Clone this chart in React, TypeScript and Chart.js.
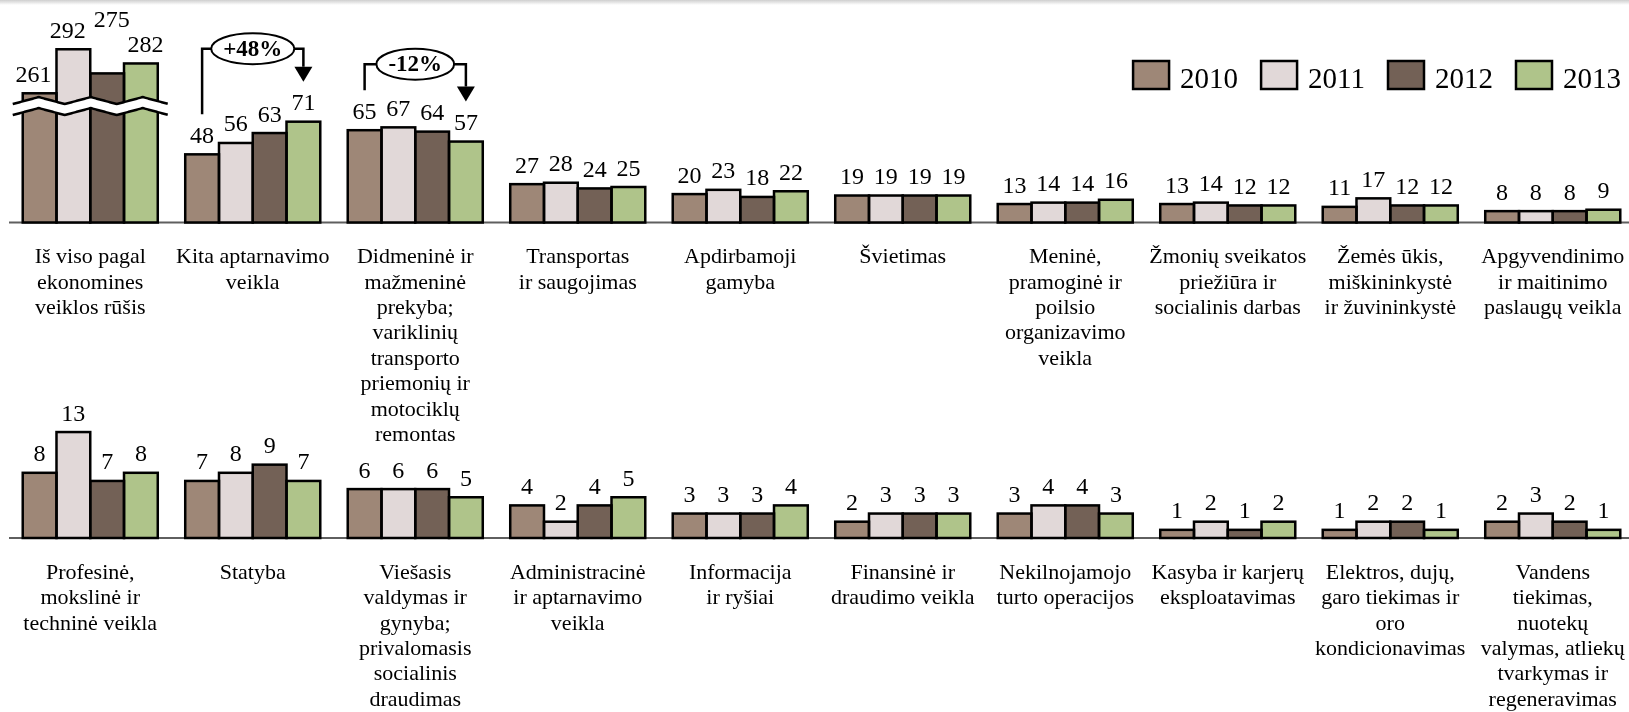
import React, { useEffect, useRef } from 'react';
import { Chart, registerables } from 'chart.js';

Chart.register(...registerables);

const FONT = '"Liberation Serif", "Times New Roman", serif';

const YEARS = ['2010', '2011', '2012', '2013'];
const YEAR_COLORS = ['#9E8777', '#E1D8D8', '#736156', '#AFC48A'];

const TOP_CATEGORIES = [
  ['Iš viso pagal', 'ekonomines', 'veiklos rūšis'],
  ['Kita aptarnavimo', 'veikla'],
  ['Didmeninė ir', 'mažmeninė', 'prekyba;', 'variklinių', 'transporto', 'priemonių ir', 'motociklų', 'remontas'],
  ['Transportas', 'ir saugojimas'],
  ['Apdirbamoji', 'gamyba'],
  ['Švietimas'],
  ['Meninė,', 'pramoginė ir', 'poilsio', 'organizavimo', 'veikla'],
  ['Žmonių sveikatos', 'priežiūra ir', 'socialinis darbas'],
  ['Žemės ūkis,', 'miškininkystė', 'ir žuvininkystė'],
  ['Apgyvendinimo', 'ir maitinimo', 'paslaugų veikla'],
];
const TOP_2010 = [261, 48, 65, 27, 20, 19, 13, 13, 11, 8];
const TOP_2011 = [292, 56, 67, 28, 23, 19, 14, 14, 17, 8];
const TOP_2012 = [275, 63, 64, 24, 18, 19, 14, 12, 12, 8];
const TOP_2013 = [282, 71, 57, 25, 22, 19, 16, 12, 12, 9];

const BOTTOM_CATEGORIES = [
  ['Profesinė,', 'mokslinė ir', 'techninė veikla'],
  ['Statyba'],
  ['Viešasis', 'valdymas ir', 'gynyba;', 'privalomasis', 'socialinis', 'draudimas'],
  ['Administracinė', 'ir aptarnavimo', 'veikla'],
  ['Informacija', 'ir ryšiai'],
  ['Finansinė ir', 'draudimo veikla'],
  ['Nekilnojamojo', 'turto operacijos'],
  ['Kasyba ir karjerų', 'eksploatavimas'],
  ['Elektros, dujų,', 'garo tiekimas ir', 'oro', 'kondicionavimas'],
  ['Vandens', 'tiekimas,', 'nuotekų', 'valymas, atliekų', 'tvarkymas ir', 'regeneravimas'],
];
const BOTTOM_2010 = [8, 7, 6, 4, 3, 2, 3, 1, 1, 2];
const BOTTOM_2011 = [13, 8, 6, 2, 3, 3, 4, 2, 2, 3];
const BOTTOM_2012 = [7, 9, 6, 4, 3, 3, 4, 1, 2, 2];
const BOTTOM_2013 = [8, 7, 5, 5, 4, 3, 3, 2, 1, 1];

// first top category is drawn on a broken axis
const BREAK_INDEX = 0;
const BREAK_OFFSET = 170;
const BREAK_AT = 82;
// label nudges (px) for the crowded broken-axis group, per year
const BREAK_LABEL_DX = [-6, -5.5, 4.5, 4.5];
const BREAK_LABEL_DY = [0, 0, -35, 0];

const ANNOTATIONS = [
  { index: 1, text: '+48%', lift: 33 },
  { index: 2, text: '-12%', lift: 26 },
];

type RowCfg = {
  categories: string[][];
  series: number[][];
  yMax: number;
  padBottom: number;
  breakIndex?: number;
  breakOffset?: number;
  breakAt?: number;
  annotations?: { index: number; text: string; lift: number }[];
  legend?: boolean;
};

function makePlugin(cfg: RowCfg) {
  return {
    id: 'rowDecor',
    beforeDatasetsDraw(chart: any) {
      const { ctx, chartArea } = chart;
      ctx.save();
      ctx.strokeStyle = '#5f5f5f';
      ctx.lineWidth = 2;
      ctx.beginPath();
      ctx.moveTo(chartArea.left, chartArea.bottom);
      ctx.lineTo(chart.width, chartArea.bottom);
      ctx.stroke();
      ctx.restore();
    },
    afterDatasetsDraw(chart: any) {
      const { ctx, chartArea } = chart;
      const xScale = chart.scales.x;
      const yScale = chart.scales.y;
      const nds = chart.data.datasets.length;
      ctx.save();

      // bar outlines
      ctx.strokeStyle = '#000';
      ctx.lineWidth = 2.5;
      for (let di = 0; di < nds; di++) {
        const meta = chart.getDatasetMeta(di);
        meta.data.forEach((el: any) => {
          ctx.strokeRect(el.x - el.width / 2, el.y, el.width, el.base - el.y);
        });
      }

      // axis break
      if (cfg.breakIndex != null) {
        const first = chart.getDatasetMeta(0).data[cfg.breakIndex];
        const last = chart.getDatasetMeta(nds - 1).data[cfg.breakIndex];
        const xl = first.x - first.width / 2 - 10;
        const xr = last.x + last.width / 2 + 10;
        const yc = yScale.getPixelForValue(cfg.breakAt);
        const half = 5.5;
        const amp = 3.5;
        const period = 52;
        const wave = (x: number, off: number) => {
          const t = (((x - xl) / period) % 1 + 1) % 1;
          const tri = t < 0.5 ? 1 - 4 * t : -3 + 4 * t;
          return yc + off + amp * tri;
        };
        ctx.beginPath();
        for (let x = xl; x <= xr; x += 1) {
          const yy = wave(x, -half);
          if (x === xl) ctx.moveTo(x, yy);
          else ctx.lineTo(x, yy);
        }
        for (let x = xr; x >= xl; x -= 1) ctx.lineTo(x, wave(x, half));
        ctx.closePath();
        ctx.fillStyle = '#fff';
        ctx.fill();
        ctx.lineWidth = 2.5;
        ctx.strokeStyle = '#000';
        [-half, half].forEach((off) => {
          ctx.beginPath();
          for (let x = xl; x <= xr; x += 1) {
            const yy = wave(x, off);
            if (x === xl) ctx.moveTo(x, yy);
            else ctx.lineTo(x, yy);
          }
          ctx.stroke();
        });
      }

      // value labels
      ctx.fillStyle = '#000';
      ctx.font = `24px ${FONT}`;
      ctx.textAlign = 'center';
      ctx.textBaseline = 'alphabetic';
      for (let di = 0; di < nds; di++) {
        const meta = chart.getDatasetMeta(di);
        meta.data.forEach((el: any, j: number) => {
          const isBreak = j === cfg.breakIndex;
          const dx = isBreak ? BREAK_LABEL_DX[di] : 0;
          const dy = isBreak ? BREAK_LABEL_DY[di] : 0;
          ctx.fillText(String(cfg.series[di][j]), el.x + dx, el.y - 11.5 + dy);
        });
      }

      // category labels
      ctx.font = `22px ${FONT}`;
      ctx.textBaseline = 'middle';
      cfg.categories.forEach((lines, j) => {
        const cx = xScale.getPixelForValue(j);
        lines.forEach((ln, k) => {
          ctx.fillText(ln, cx, chartArea.bottom + 35 + k * 25.4);
        });
      });

      // change annotations
      (cfg.annotations || []).forEach((a) => {
        const b1 = chart.getDatasetMeta(0).data[a.index];
        const b2 = chart.getDatasetMeta(nds - 1).data[a.index];
        const x1 = b1.x;
        const x2 = b2.x;
        const y1 = b1.y - 40;
        const y2 = b2.y - 40;
        const by = Math.min(y1, y2) - a.lift;
        const cx = (x1 + x2) / 2;
        ctx.font = `bold 23px ${FONT}`;
        const tw = ctx.measureText(a.text).width;
        const rx = tw / 2 + 12;
        const ry = 15.5;
        ctx.strokeStyle = '#000';
        ctx.lineWidth = 2.5;
        ctx.beginPath();
        ctx.moveTo(x1, y1);
        ctx.lineTo(x1, by);
        ctx.lineTo(x2, by);
        ctx.lineTo(x2, y2 - 15);
        ctx.stroke();
        ctx.fillStyle = '#000';
        ctx.beginPath();
        ctx.moveTo(x2 - 9, y2 - 15);
        ctx.lineTo(x2 + 9, y2 - 15);
        ctx.lineTo(x2, y2);
        ctx.closePath();
        ctx.fill();
        ctx.beginPath();
        ctx.ellipse(cx, by, rx, ry, 0, 0, Math.PI * 2);
        ctx.fillStyle = '#fff';
        ctx.fill();
        ctx.lineWidth = 2;
        ctx.stroke();
        ctx.fillStyle = '#000';
        ctx.textAlign = 'center';
        ctx.textBaseline = 'middle';
        ctx.fillText(a.text, cx, by + 1);
      });

      // legend
      if (cfg.legend) {
        ctx.font = `29px ${FONT}`;
        ctx.textAlign = 'left';
        ctx.textBaseline = 'alphabetic';
        const boxW = 36;
        const boxH = 28;
        const gapBT = 11;
        const itemGap = 23;
        const widths = chart.data.datasets.map((d: any) => ctx.measureText(d.label).width);
        const total = widths.reduce((s: number, w: number) => s + boxW + gapBT + w, 0) + itemGap * (nds - 1);
        let x = 1621 - total;
        const cy = 75;
        chart.data.datasets.forEach((d: any, i: number) => {
          ctx.fillStyle = d.backgroundColor;
          ctx.fillRect(x, cy - boxH / 2, boxW, boxH);
          ctx.strokeStyle = '#000';
          ctx.lineWidth = 2.5;
          ctx.strokeRect(x, cy - boxH / 2, boxW, boxH);
          ctx.fillStyle = '#000';
          ctx.fillText(d.label, x + boxW + gapBT, cy + 12.5);
          x += boxW + gapBT + widths[i] + itemGap;
        });
      }
      ctx.restore();
    },
  };
}

function buildChart(canvas: HTMLCanvasElement, cfg: RowCfg) {
  const datasets = cfg.series.map((vals, i) => ({
    label: YEARS[i],
    data: vals.map((v, j) => (j === cfg.breakIndex ? v - (cfg.breakOffset || 0) : v)),
    backgroundColor: YEAR_COLORS[i],
    borderWidth: 0,
    categoryPercentage: 0.831,
    barPercentage: 1,
  }));
  return new Chart(canvas, {
    type: 'bar',
    data: { labels: cfg.categories.map((c) => c.join(' ')), datasets },
    options: {
      animation: false,
      responsive: false,
      devicePixelRatio: 1,
      layout: { padding: { left: 9, right: 6, top: 0, bottom: cfg.padBottom } },
      scales: {
        x: { display: false },
        y: { display: false, min: 0, max: cfg.yMax },
      },
      plugins: { legend: { display: false }, tooltip: { enabled: false } },
    },
    plugins: [makePlugin(cfg) as any],
  });
}

export default function App() {
  const topRef = useRef<HTMLCanvasElement>(null);
  const bottomRef = useRef<HTMLCanvasElement>(null);

  useEffect(() => {
    const top = buildChart(topRef.current!, {
      categories: TOP_CATEGORIES,
      series: [TOP_2010, TOP_2011, TOP_2012, TOP_2013],
      yMax: 222.5 / 1.42,
      padBottom: 460 - 222.5,
      breakIndex: BREAK_INDEX,
      breakOffset: BREAK_OFFSET,
      breakAt: BREAK_AT,
      annotations: ANNOTATIONS,
      legend: true,
    });
    const bottom = buildChart(bottomRef.current!, {
      categories: BOTTOM_CATEGORIES,
      series: [BOTTOM_2010, BOTTOM_2011, BOTTOM_2012, BOTTOM_2013],
      yMax: 158 / 8.15,
      padBottom: 332 - 158,
    });
    return () => {
      top.destroy();
      bottom.destroy();
    };
  }, []);

  return (
    <div
      style={{
        position: 'absolute',
        left: 0,
        top: 0,
        width: 1629,
        height: 712,
        overflow: 'hidden',
        background: '#fff',
      }}
    >
      <canvas ref={bottomRef} width={1640} height={332} style={{ position: 'absolute', left: 0, top: 380 }} />
      <canvas ref={topRef} width={1640} height={460} style={{ position: 'absolute', left: 0, top: 0 }} />
      <div
        style={{
          position: 'absolute',
          left: 0,
          top: 0,
          width: 1629,
          height: 5,
          background: 'linear-gradient(#cfcfcf, rgba(255,255,255,0))',
        }}
      />
    </div>
  );
}
